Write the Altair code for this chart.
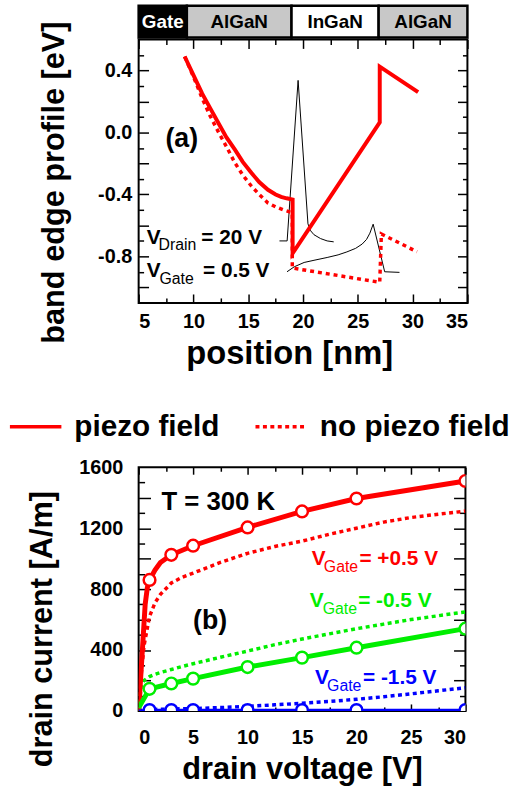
import altair as alt
import pandas as pd

FONT = "Liberation Sans"

# ---------------- (a) band edge profile ----------------
piezo_pos = [9.2, 10.0, 10.8, 11.5, 12.3, 13.0, 13.8, 14.5, 15.3, 16.0, 16.8, 17.5, 18.0, 18.5, 19.05, 19.05, 27.0, 27.0, 30.5]
piezo_energy = [0.49, 0.37, 0.25, 0.16, 0.058, -0.03, -0.113, -0.19, -0.262, -0.32, -0.37, -0.40, -0.416, -0.425, -0.433, -0.78, 0.065, 0.425, 0.26]

nopiezo_pos = [9.2, 10.0, 10.8, 11.5, 12.3, 13.0, 13.8, 14.5, 15.3, 16.0, 16.8, 17.5, 18.2, 18.9, 19.02, 19.02, 27.0, 27.15, 30.4]
nopiezo_energy = [0.49, 0.36, 0.22, 0.11, 0.0, -0.09, -0.198, -0.275, -0.347, -0.40, -0.455, -0.48, -0.50, -0.515, -0.52, -0.875, -0.967, -0.655, -0.77]

well_state_pos = [17.85, 18.55, 19.55, 20.45, 20.7, 21.0, 21.6, 22.2, 22.8]
well_state_val = [-0.70, -0.70, 0.336, -0.59, -0.635, -0.66, -0.685, -0.70, -0.706]

channel_state_pos = [18.54, 19.2, 20.1, 21.0, 22.2, 23.2, 24.0, 24.8, 25.4, 25.8, 26.1, 26.4, 27.45, 28.8]
channel_state_val = [-0.899, -0.867, -0.839, -0.825, -0.807, -0.79, -0.771, -0.748, -0.72, -0.69, -0.65, -0.592, -0.899, -0.903]

layer_names = ["Gate", "AlGaN", "InGaN", "AlGaN"]
layer_from = [5, 9.4, 18.95, 26.9]
layer_to = [9.4, 18.95, 26.9, 35]

pos_labels = [5, 10, 15, 20, 25, 30, 35]
pos_minor = [7.5, 12.5, 17.5, 22.5, 27.5, 32.5]
energy_labels = [-0.8, -0.4, 0.0, 0.4]
energy_major = [-1.0, -0.8, -0.6, -0.4, -0.2, 0.0, 0.2, 0.4]
energy_minor = [-0.9, -0.7, -0.5, -0.3, -0.1, 0.1, 0.3, 0.5]

top_tag_text = ["(a)"]
top_tag_pos = [7.44]
top_tag_energy = [-0.045]
top_v_text = ["V", "= 20 V", "V", "= 0.5 V"]
top_v_pos = [5.75, 10.72, 5.75, 10.87]
top_v_energy = [-0.717, -0.717, -0.934, -0.934]
top_sub_text = ["Drain", "Gate"]
top_sub_pos = [6.81, 6.90]
top_sub_energy = [-0.761, -0.979]

# ---------------- (b) drain current ----------------
gates = ["+0.5 V", "-0.5 V", "-1.5 V"]

vd_markers = [1, 3, 5, 10, 15, 20, 30]
i_p05_markers = [860, 1025, 1085, 1205, 1310, 1395, 1510]
i_m05_markers = [145, 180, 212, 288, 350, 415, 540]
i_m15_markers = [5, 5, 5, 5, 5, 5, 5]

vd_p05_line = [0, 0.6, 0.8, 1, 1.5, 2, 3, 5, 10, 15, 20, 30]
i_p05_line = [0, 700, 810, 860, 925, 975, 1025, 1085, 1205, 1310, 1395, 1510]
vd_m05_line = [0, 1, 3, 5, 10, 15, 20, 30]
i_m05_line = [20, 145, 180, 212, 288, 350, 415, 540]
vd_m15_line = [0, 1, 3, 5, 10, 15, 20, 30]
i_m15_line = [0, 5, 5, 5, 5, 5, 5, 5]

vd_np = [0, 0.25, 0.5, 1, 1.5, 2, 3, 4, 5, 7.5, 10, 12.5, 15, 17.5, 20, 22.5, 25, 27.5, 30]
i_np_p05 = [0, 250, 430, 620, 710, 765, 840, 878, 905, 975, 1035, 1080, 1115, 1160, 1200, 1240, 1270, 1292, 1312]
i_np_m05 = [0, 170, 200, 225, 240, 252, 272, 292, 310, 352, 393, 435, 472, 506, 540, 570, 600, 625, 650]
i_np_m15 = [0, 4, 6, 8, 10, 11, 12, 14, 15, 22, 30, 40, 50, 62, 76, 93, 112, 132, 152]

vd_labels = [0, 5, 10, 15, 20, 25, 30]
vd_minor = [2.5, 7.5, 12.5, 17.5, 22.5, 27.5]
cur_labels = [0, 400, 800, 1200, 1600]
cur_major = [200, 400, 600, 800, 1000, 1200, 1400]
cur_minor = [100, 300, 500, 700, 900, 1100, 1300, 1500]

bot_t_text = ["T = 300 K"]
bot_t_v = [2.09]
bot_t_i = [1320]
bot_tag_text = ["(b)"]
bot_tag_v = [5.0]
bot_tag_i = [592]
gate_v_pos = [15.9, 15.7, 16.2]
gate_i_pos = [956, 685, 176]
gate_sub_v = [17.0, 16.9, 17.3]
gate_sub_i = [912, 637, 130]
gate_rest_text = ["= +0.5 V", "= -0.5 V", "= -1.5 V"]
gate_rest_v = [20.27, 20.15, 20.6]

legend_entries = ["piezo field", "no piezo field"]

# ---------------- layout constants ----------------
W1, H1 = 332, 266
W2, H2 = 330, 246
HEAD_H = 32
LEG_H = 162
MINUS = "replace(datum.label, '\u2212', '-')"


def lab_axis(orient, values, fmt, title, pad, tpad, tsize=31, **kw):
    return alt.Axis(orient=orient, values=values, format=fmt, title=title, ticks=False, tickSize=0,
                    domain=False, grid=False, labelPadding=pad, labelFont=FONT, labelFontSize=20,
                    labelFontWeight="bold", labelColor="black", titleFont=FONT, titleFontSize=tsize,
                    titleFontWeight="bold", titleColor="black", titlePadding=tpad, labelExpr=MINUS, **kw)


def tick_axis(orient, values, size):
    return alt.Axis(orient=orient, values=values, offset=-size, tickSize=size, tickWidth=1.5,
                    tickColor="black", labels=False, domain=False, grid=False, title=None)


top_x_axes = [lab_axis("bottom", pos_labels, "d", "position [nm]", 9, 6, tsize=33, titleX=152),
              tick_axis("bottom", pos_labels, 9), tick_axis("bottom", pos_minor, 5),
              tick_axis("top", pos_labels, 9), tick_axis("top", pos_minor, 5)]
top_y_axes = [lab_axis("left", energy_labels, ".1f", "band edge profile [eV]", 7, 27, titleY=144),
              tick_axis("left", energy_major, 10), tick_axis("left", energy_minor, 5),
              tick_axis("right", energy_major, 10), tick_axis("right", energy_minor, 5)]

bot_x_axes = [lab_axis("bottom", vd_labels, "d", "drain voltage [V]", 17, 7),
              tick_axis("bottom", vd_labels, 7), tick_axis("bottom", vd_minor, 4),
              tick_axis("top", vd_labels, 7), tick_axis("top", vd_minor, 4)]
bot_y_axes = [lab_axis("left", cur_labels, "d", "drain current [A/m]", 16, 21, titleY=163),
              tick_axis("left", cur_major, 12), tick_axis("left", cur_minor, 6),
              tick_axis("right", cur_major, 12), tick_axis("right", cur_minor, 6)]

xs_top = alt.Scale(domain=[5, 35], nice=False, zero=False)
ys_top = alt.Scale(domain=[-1.1, 0.6], nice=False, zero=False)
xs_bot = alt.Scale(domain=[0, 30], nice=False, zero=False)
ys_bot = alt.Scale(domain=[0, 1600], nice=False, zero=False)


def pos_top(i, xf="pos", yf="energy"):
    xa = top_x_axes[i] if i < len(top_x_axes) else None
    ya = top_y_axes[i] if i < len(top_y_axes) else None
    return dict(x=alt.X(f"{xf}:Q", scale=xs_top, axis=xa), y=alt.Y(f"{yf}:Q", scale=ys_top, axis=ya))


def pos_bot(i, xf="vd", yf="cur"):
    xa = bot_x_axes[i] if i < len(bot_x_axes) else None
    ya = bot_y_axes[i] if i < len(bot_y_axes) else None
    return dict(x=alt.X(f"{xf}:Q", scale=xs_bot, axis=xa), y=alt.Y(f"{yf}:Q", scale=ys_bot, axis=ya))


# ---------------- header panel ----------------
head_df = pd.DataFrame({"name": layer_names, "x0": layer_from, "x1": layer_to})
head_x = alt.Scale(domain=[5, 35], nice=False, zero=False)
head_rects = alt.Chart(head_df).mark_rect(stroke="black", strokeWidth=2.5).encode(
    x=alt.X("x0:Q", scale=head_x, axis=None), x2="x1:Q",
    fill=alt.Fill("name:N", scale=alt.Scale(domain=["Gate", "AlGaN", "InGaN"],
                                            range=["black", "#c8c8c8", "white"]), legend=None))
head_text = alt.Chart(head_df).transform_calculate(mid="(datum.x0 + datum.x1) / 2").mark_text(
    font=FONT, fontSize=19, fontWeight="bold").encode(
    x=alt.X("mid:Q", scale=head_x, axis=None), text="name:N",
    color=alt.condition("datum.name == 'Gate'", alt.value("white"), alt.value("black")))
header = alt.layer(head_rects, head_text).properties(width=W1, height=HEAD_H)

# ---------------- top plot ----------------
states_df = pd.concat([
    pd.DataFrame({"pos": well_state_pos, "energy": well_state_val, "state": "well"}),
    pd.DataFrame({"pos": channel_state_pos, "energy": channel_state_val, "state": "channel"})],
    ignore_index=True)
states_df["i"] = range(len(states_df))
piezo_df = pd.DataFrame({"pos": piezo_pos, "energy": piezo_energy})
piezo_df["i"] = range(len(piezo_df))
nopiezo_df = pd.DataFrame({"pos": nopiezo_pos, "energy": nopiezo_energy})
nopiezo_df["i"] = range(len(nopiezo_df))

t_states = alt.Chart(states_df).mark_line(color="black", strokeWidth=1).encode(
    **pos_top(0), detail="state:N", order="i:Q")
t_nopiezo = alt.Chart(nopiezo_df).mark_line(color="#ff0000", strokeWidth=3.5, strokeDash=[4, 4]).encode(
    **pos_top(1), order="i:Q")
t_piezo = alt.Chart(piezo_df).mark_line(color="#ff0000", strokeWidth=4).encode(
    **pos_top(2), order="i:Q")
t_tag = alt.Chart(pd.DataFrame({"pos": top_tag_pos, "energy": top_tag_energy, "t": top_tag_text})).mark_text(
    font=FONT, fontSize=27, fontWeight="bold", align="left", baseline="middle", color="black").encode(
    **pos_top(3), text="t:N")
t_v = alt.Chart(pd.DataFrame({"pos": top_v_pos, "energy": top_v_energy, "t": top_v_text})).mark_text(
    font=FONT, fontSize=21, fontWeight="bold", align="left", baseline="alphabetic", color="black").encode(
    **pos_top(4), text="t:N")
t_sub = alt.Chart(pd.DataFrame({"pos": top_sub_pos, "energy": top_sub_energy, "t": top_sub_text})).mark_text(
    font=FONT, fontSize=16, align="left", baseline="alphabetic", color="black").encode(
    **pos_top(5), text="t:N")

top = alt.layer(t_states, t_nopiezo, t_piezo, t_tag, t_v, t_sub).resolve_axis(
    x="independent", y="independent").properties(
    width=W1, height=H1, view=alt.ViewBackground(stroke="black", strokeWidth=2))

# ---------------- legend panel ----------------
legend_df = pd.DataFrame({"field": legend_entries})
legend_panel = alt.Chart(legend_df).mark_line(color="#ff0000", strokeWidth=3.5).encode(
    strokeDash=alt.StrokeDash("field:N", scale=alt.Scale(domain=legend_entries, range=[[1, 0], [4, 3.5]]),
                              legend=alt.Legend(orient="none", legendX=-132, legendY=95, direction="horizontal",
                                                columns=2, title=None, symbolType="stroke", symbolSize=2704,
                                                symbolStrokeWidth=3.5, symbolStrokeColor="#ff0000",
                                                labelFont=FONT, labelFontSize=30, labelFontWeight="bold",
                                                labelColor="black", labelOffset=11, columnPadding=29,
                                                padding=0, labelLimit=400))
).properties(width=W1, height=LEG_H)

# ---------------- bottom plot ----------------
color_scale = alt.Scale(domain=gates, range=["#ff0000", "#00ee00", "#0000ff"])

frames = []
for g, v, c in [(gates[0], vd_np, i_np_p05), (gates[1], vd_np, i_np_m05), (gates[2], vd_np, i_np_m15)]:
    frames.append(pd.DataFrame({"vd": v, "cur": c, "gate": g, "kind": "no piezo"}))
for g, v, c in [(gates[0], vd_p05_line, i_p05_line), (gates[1], vd_m05_line, i_m05_line),
                (gates[2], vd_m15_line, i_m15_line)]:
    frames.append(pd.DataFrame({"vd": v, "cur": c, "gate": g, "kind": "piezo"}))
lines_df = pd.concat(frames, ignore_index=True)
lines_df["i"] = range(len(lines_df))

markers_df = pd.concat([
    pd.DataFrame({"vd": vd_markers, "cur": i_p05_markers, "gate": gates[0]}),
    pd.DataFrame({"vd": vd_markers, "cur": i_m05_markers, "gate": gates[1]}),
    pd.DataFrame({"vd": vd_markers, "cur": i_m15_markers, "gate": gates[2]})], ignore_index=True)

base_lines = alt.Chart(lines_df)
b_dotted = base_lines.transform_filter("datum.kind == 'no piezo'").mark_line(
    strokeWidth=3.5, strokeDash=[4, 3.5], clip=True).encode(
    **pos_bot(0), color=alt.Color("gate:N", scale=color_scale, legend=None), detail="gate:N", order="i:Q")
b_solid = base_lines.transform_filter("datum.kind == 'piezo' && datum.gate != '-1.5 V'").mark_line(
    strokeWidth=5, clip=True).encode(
    **pos_bot(1), color=alt.Color("gate:N", scale=color_scale, legend=None), detail="gate:N", order="i:Q")
b_blue = base_lines.transform_filter("datum.kind == 'piezo' && datum.gate == '-1.5 V'").mark_line(
    strokeWidth=3, clip=True).encode(
    **pos_bot(2), color=alt.Color("gate:N", scale=color_scale, legend=None), order="i:Q")
b_markers = alt.Chart(markers_df).mark_point(shape="circle", size=140, fill="white", filled=False,
                                             strokeWidth=2.5, opacity=1, clip=True).encode(
    **pos_bot(3), stroke=alt.Stroke("gate:N", scale=color_scale, legend=None))
b_t = alt.Chart(pd.DataFrame({"vd": bot_t_v, "cur": bot_t_i, "t": bot_t_text})).mark_text(
    font=FONT, fontSize=26, fontWeight="bold", align="left", baseline="alphabetic", color="black").encode(
    **pos_bot(4), text="t:N")
b_tag = alt.Chart(pd.DataFrame({"vd": bot_tag_v, "cur": bot_tag_i, "t": bot_tag_text})).mark_text(
    font=FONT, fontSize=27, fontWeight="bold", align="left", baseline="middle", color="black").encode(
    **pos_bot(5), text="t:N")
b_v = alt.Chart(pd.DataFrame({"vd": gate_v_pos, "cur": gate_i_pos, "gate": gates, "t": ["V"] * 3})).mark_text(
    font=FONT, fontSize=21, fontWeight="bold", align="left", baseline="alphabetic").encode(
    **pos_bot(6), text="t:N", color=alt.Color("gate:N", scale=color_scale, legend=None))
b_sub = alt.Chart(pd.DataFrame({"vd": gate_sub_v, "cur": gate_sub_i, "gate": gates, "t": ["Gate"] * 3})).mark_text(
    font=FONT, fontSize=16, align="left", baseline="alphabetic").encode(
    **pos_bot(7), text="t:N", color=alt.Color("gate:N", scale=color_scale, legend=None))
b_rest = alt.Chart(pd.DataFrame({"vd": gate_rest_v, "cur": gate_i_pos, "gate": gates, "t": gate_rest_text})).mark_text(
    font=FONT, fontSize=21, fontWeight="bold", align="left", baseline="alphabetic").encode(
    **pos_bot(8), text="t:N", color=alt.Color("gate:N", scale=color_scale, legend=None))

bottom = alt.layer(b_dotted, b_solid, b_blue, b_markers, b_t, b_tag, b_v, b_sub, b_rest).resolve_axis(
    x="independent", y="independent").properties(
    width=W2, height=H2, view=alt.ViewBackground(stroke="black", strokeWidth=2))

chart = alt.vconcat(header, top, legend_panel, bottom, spacing=2, bounds="flush").resolve_legend(
    strokeDash="independent").properties(
    padding={"left": 8, "top": 0, "right": 0, "bottom": 0}
).configure_view(stroke=None)

chart.save("out.html", embed_options={"renderer": "svg", "actions": False})
